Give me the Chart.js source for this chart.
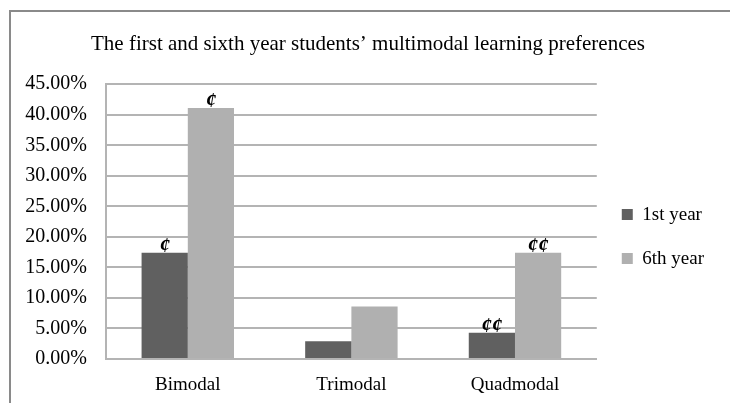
<!DOCTYPE html>
<html>
<head>
<meta charset="utf-8">
<script src="https://cdn.jsdelivr.net/npm/chart.js@4/dist/chart.umd.min.js"></script>
<style>
  body { margin: 0; background: #fff; }
  #wrap { width: 730px; height: 403px; }
</style>
</head>
<body>
<div id="wrap"><canvas id="modalChart"></canvas></div>
<script>
// data
var categories = ['Bimodal', 'Trimodal', 'Quadmodal'];
var firstYear = [17.4, 2.9, 4.3];
var sixthYear = [41.1, 8.6, 17.4];
var firstMarks = ['¢', '', '¢¢'];
var sixthMarks = ['¢', '', '¢¢'];
var yTicksMax = 45;
var yTicksStep = 5;

Chart.defaults.font.family = "'Liberation Serif', 'Times New Roman', serif";
Chart.defaults.font.size = 19;
Chart.defaults.color = '#000';

// grey frame on left and top + white background
var framePlugin = {
    id: 'frame',
    beforeDraw: function(chart) {
        var ctx = chart.ctx;
        ctx.save();
        ctx.fillStyle = '#fff';
        ctx.fillRect(0, 0, chart.width, chart.height);
        ctx.strokeStyle = '#8a8a8a';
        ctx.lineWidth = 2;
        ctx.beginPath();
        ctx.moveTo(10, chart.height);
        ctx.lineTo(10, 11);
        ctx.lineTo(chart.width, 11);
        ctx.stroke();
        ctx.restore();
    }
};

// the little cent signs above some bars
var marksPlugin = {
    id: 'marks',
    afterDatasetsDraw: function(chart) {
        var ctx = chart.ctx;
        var sets = [firstMarks, sixthMarks];
        ctx.save();
        ctx.font = "bold italic 21px 'Liberation Serif', serif";
        ctx.fillStyle = '#000';
        ctx.textAlign = 'center';
        ctx.textBaseline = 'bottom';
        sets.forEach(function(marks, i) {
            chart.getDatasetMeta(i).data.forEach(function(bar, j) {
                if (marks[j]) ctx.fillText(marks[j], bar.x, bar.y + 4);
            });
        });
        ctx.restore();
    }
};

var ctx = document.getElementById('modalChart').getContext('2d');
var modalChart = new Chart(ctx, {
    type: 'bar',
    data: {
        labels: categories,
        datasets: [{
            label: '1st year',
            data: firstYear,
            backgroundColor: '#606060'
        }, {
            label: '6th year',
            data: sixthYear,
            backgroundColor: '#b0b0b0'
        }]
    },
    options: {
        responsive: true,
        maintainAspectRatio: false,
        animation: false,
        layout: { padding: { left: 22, top: 10, right: 16, bottom: 6 } },
        datasets: { bar: { categoryPercentage: 0.565, barPercentage: 1 } },
        plugins: {
            title: {
                display: true,
                text: 'The first and sixth year students\u2019 multimodal learning preferences',
                font: { size: 21, weight: 'normal' },
                color: '#000',
                padding: { top: 22, bottom: 27 }
            },
            legend: {
                position: 'right',
                fullSize: false,
                title: { display: true, text: ' ', font: { size: 10 }, padding: { top: 0, bottom: 18 } },
                labels: { boxWidth: 11, boxHeight: 11, padding: 25, color: '#000' }
            },
            tooltip: { enabled: false }
        },
        scales: {
            x: {
                afterFit: function(scale) { scale.height = 38; },
                grid: { display: false, drawTicks: false },
                border: { display: true, color: '#b4b4b4', width: 2 },
                ticks: { padding: 15 }
            },
            y: {
                min: 0,
                max: yTicksMax,
                afterFit: function(scale) { scale.width = 84; },
                grid: { color: '#b4b4b4', lineWidth: 2, drawTicks: false },
                border: { display: true, color: '#b4b4b4', width: 2 },
                ticks: {
                    stepSize: yTicksStep,
                    padding: 19,
                    font: { size: 20 },
                    callback: function(v) { return v.toFixed(2) + '%'; }
                }
            }
        }
    },
    plugins: [framePlugin, marksPlugin]
});
</script>
</body>
</html>
